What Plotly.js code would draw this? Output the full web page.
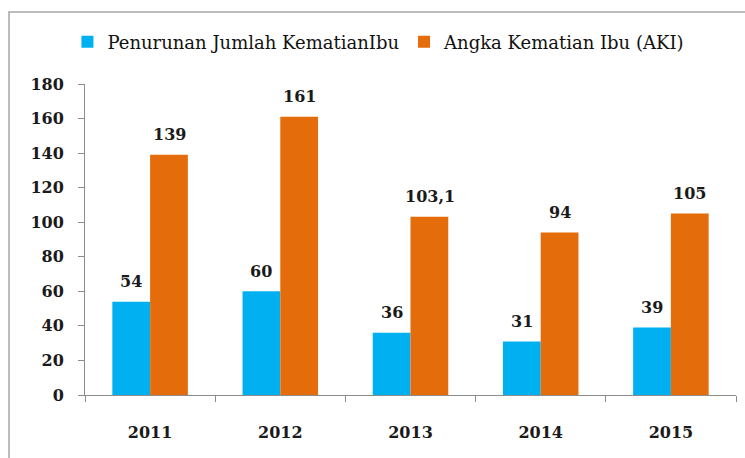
<!DOCTYPE html>
<html>
<head>
<meta charset="utf-8">
<script src="https://cdn.plot.ly/plotly-3.0.1.min.js"></script>
<style>
html,body{margin:0;padding:0;background:#fff;}
#chart{width:745px;height:458px;}
</style>
</head>
<body>
<div id="chart"></div>
<script>
const years = ['2011', '2012', '2013', '2014', '2015'];
const penurunan = [54, 60, 36, 31, 39];
const aki = [139, 161, 103.1, 94, 105];
const penurunanLabels = ['54', '60', '36', '31', '39'];
const akiLabels = ['139', '161', '103,1', '94', '105'];
const seriesNames = ['Penurunan Jumlah KematianIbu', 'Angka Kematian Ibu (AKI)'];
const yTicks = [0, 20, 40, 60, 80, 100, 120, 140, 160, 180];

const blue = '#00B0F0';
const orange = '#E46C0A';
const numFont = {family: 'DejaVu Serif', size: 16, color: '#1a1a1a', weight: 'bold'};

const traces = [
  {type: 'bar', name: seriesNames[0], x: years, y: penurunan, marker: {color: blue}, hoverinfo: 'none'},
  {type: 'bar', name: seriesNames[1], x: years, y: aki, marker: {color: orange}, hoverinfo: 'none'}
];

const annotations = [];
years.forEach((yr, i) => {
  annotations.push({x: i, y: penurunan[i], xref: 'x', yref: 'y', text: penurunanLabels[i],
    showarrow: false, xshift: -19, yshift: 20, font: numFont});
  annotations.push({x: i, y: aki[i], xref: 'x', yref: 'y', text: akiLabels[i],
    showarrow: false, xshift: 19, yshift: 20, font: numFont});
});

const layout = {
  width: 745, height: 458,
  margin: {l: 85, r: 9, t: 84, b: 63},
  paper_bgcolor: '#fff', plot_bgcolor: '#fff',
  barmode: 'group', bargap: 0.42, bargroupgap: 0,
  showlegend: true,
  legend: {orientation: 'h', x: -0.027, xanchor: 'left', y: 1.135, yanchor: 'middle',
    font: {family: 'DejaVu Serif', size: 18, color: '#111', stretch: 'condensed'}, itemwidth: 30, tracegroupgap: 0},
  xaxis: {type: 'category', range: [-0.5, 4.5], autorange: false, showgrid: false, showline: true, linecolor: '#8c8c8c', linewidth: 1,
    ticks: 'outside', tickson: 'boundaries', ticklen: 6, tickcolor: '#8c8c8c',
    ticklabelstandoff: 23, tickfont: numFont, zeroline: false},
  yaxis: {range: [0, 180], autorange: false, tickvals: yTicks, showgrid: false, showline: true, linecolor: '#8c8c8c',
    linewidth: 1, ticks: 'outside', ticklen: 6, tickcolor: '#8c8c8c', ticklabelstandoff: 11,
    tickfont: numFont, zeroline: false},
  annotations: annotations,
  shapes: [{type: 'rect', xref: 'paper', yref: 'paper', x0: -0.1167, x1: 1.1, y0: -0.4, y1: 1.2315,
    line: {color: '#a6a6a6', width: 1.5}, fillcolor: 'rgba(0,0,0,0)', layer: 'below'}]
};

Plotly.newPlot('chart', traces, layout, {displayModeBar: false, staticPlot: true});
</script>
</body>
</html>
